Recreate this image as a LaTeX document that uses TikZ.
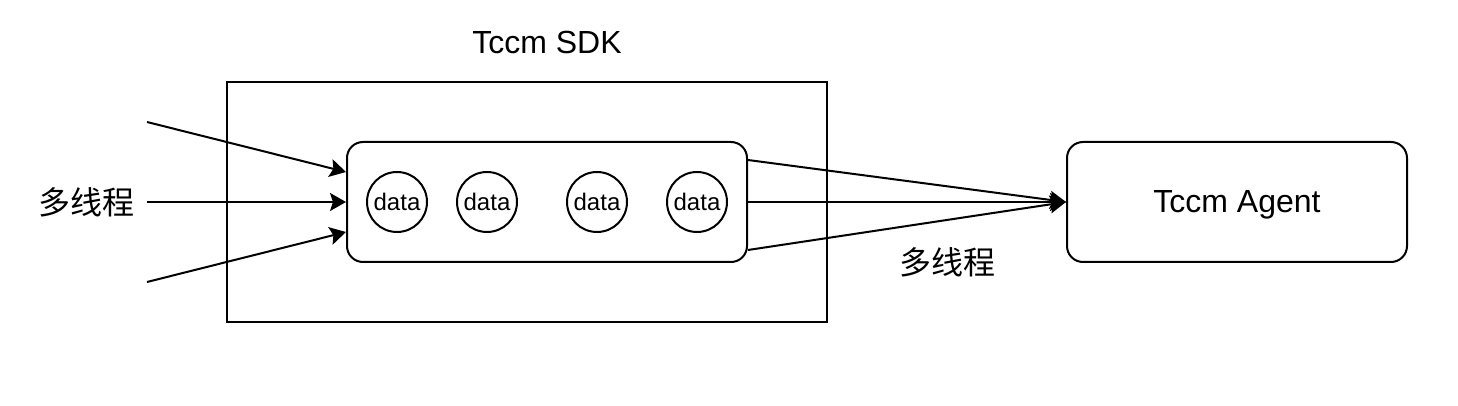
\documentclass[tikz,border=0pt]{standalone}
\usepackage{fontspec}
\setmainfont{Liberation Sans}
\newfontfamily\cjk{Noto Sans CJK SC}
\usetikzlibrary{arrows.meta,calc}
\tikzset{
  box/.style={draw=black,line width=1pt,minimum height=60pt,inner sep=0pt},
  rbox/.style={box,rounded corners=8pt},
  datac/.style={draw=black,line width=1pt,circle,minimum size=30pt,inner sep=0pt,font=\fontsize{12pt}{15pt}\selectfont},
  big/.style={font=\fontsize{16pt}{19pt}\selectfont},
  cn/.style={font=\cjk\fontsize{16pt}{19pt}\selectfont},
  arr/.style={line width=1pt,-{Stealth[length=8pt,width=9pt,inset=1.5pt]}},
}
\begin{document}
\begin{tikzpicture}[x=0.5pt,y=-0.5pt]
\useasboundingbox (0,0) rectangle (1458,406);
\node[box,minimum width=300pt,minimum height=120pt] (sdk) at (527,202) {};
\node[big] (title) at (547,42) {Tccm SDK};
\node[rbox,minimum width=200pt] (inner) at (547,202) {};
\node[datac] (d1) at (397,202) {data};
\node[datac] (d2) at (487,202) {data};
\node[datac] (d3) at (597,202) {data};
\node[datac] (d4) at (697,202) {data};
\node[rbox,minimum width=170pt] (agent) at (1237,202) {};
\node[big] (agenttext) at ([yshift=-1.5pt]agent.center) {Tccm Agent};
\node[cn] (lleft) at (87,202) {多线程};
\node[cn] (lright) at (947,262) {多线程};
\coordinate (s1) at (147,122);
\coordinate (s3) at (147,282);
\draw[arr] (s1) -- ([yshift=15pt]inner.west);
\draw[arr] (lleft.east -| s1) -- (inner.west);
\draw[arr] (s3) -- ([yshift=-15pt]inner.west);
\draw[arr] ([yshift=21pt]inner.east) -- (agent.west);
\draw[arr] (inner.east) -- (agent.west);
\draw[arr] ([yshift=-24pt]inner.east) -- (agent.west);
\end{tikzpicture}
\end{document}
